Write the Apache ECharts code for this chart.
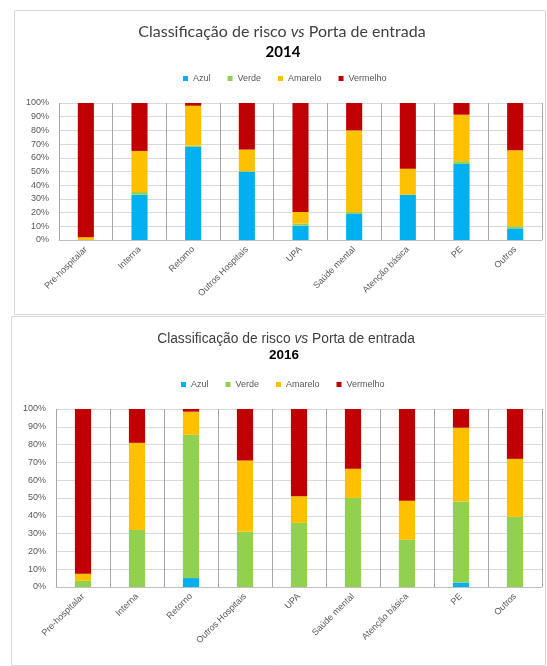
<!DOCTYPE html>
<html>
<head>
<meta charset="utf-8">
<script src="https://cdn.jsdelivr.net/npm/echarts@6/dist/echarts.min.js"></script>
<style>
html,body{margin:0;padding:0;background:#fff;}
#c{width:547px;height:666px;}
</style>
</head>
<body>
<div id="c"></div>
<script>
var categories = ['Pre-hospitalar','Interna','Retorno','Outros Hospitais','UPA','Saúde mental','Atenção básica','PE','Outros'];
var seriesNames = ['Azul','Verde','Amarelo','Vermelho'];
var colors = ['#00B0F0','#92D050','#FFC000','#C00000'];
var yTicks = [0,10,20,30,40,50,60,70,80,90,100];

var azul2014     = [0, 33, 68, 50, 10.5, 19, 33, 55.5, 8.5];
var verde2014    = [0, 2, 1, 0, 1.5, 1.5, 0, 2, 1.5];
var amarelo2014  = [2, 30, 29, 16, 8.5, 59.5, 19, 34, 55.5];
var vermelho2014 = [98, 35, 2, 34, 79.5, 20, 48, 8.5, 34.5];

var azul2016     = [0, 0, 5, 0, 0, 0, 0, 2.5, 0];
var verde2016    = [3.5, 32, 80.5, 31, 36, 50, 26.5, 45.5, 39.5];
var amarelo2016  = [4, 49, 13, 40, 15, 16.5, 22, 41.5, 32.5];
var vermelho2016 = [92.5, 19, 1.5, 29, 49, 33.5, 51.5, 10.5, 28];

var data2014 = [azul2014, verde2014, amarelo2014, vermelho2014];
var data2016 = [azul2016, verde2016, amarelo2016, vermelho2016];

var chart = echarts.init(document.getElementById('c'), null, {renderer:'canvas'});

function xAxisCfg(gi){
  return {
    type:'category', gridIndex:gi, data:categories,
    axisLine:{show:true, lineStyle:{color:'#BFBFBF'}},
    axisTick:{show:false},
    splitLine:{show:true, lineStyle:{color:'#A6A6A6', width:1}},
    axisLabel:{interval:0, rotate:45, fontSize:9, color:'#595959', margin:8, fontFamily:'Liberation Sans'}
  };
}
function yAxisCfg(gi){
  return {
    type:'value', gridIndex:gi, min:yTicks[0], max:yTicks[yTicks.length-1], interval:10,
    axisLine:{show:false}, axisTick:{show:false},
    splitLine:{show:true, lineStyle:{color:'#D9D9D9'}},
    axisLabel:{formatter:'{value}%', fontSize:9, color:'#595959', margin:10, fontFamily:'Liberation Sans'}
  };
}

var series = [];
seriesNames.forEach(function(n,i){
  series.push({name:n, type:'bar', stack:'s2014', xAxisIndex:0, yAxisIndex:0, barWidth:'30%',
    data:data2014[i], itemStyle:{color:colors[i]}});
});
seriesNames.forEach(function(n,i){
  series.push({name:n, type:'bar', stack:'s2016', xAxisIndex:1, yAxisIndex:1, barWidth:'30%',
    data:data2016[i], itemStyle:{color:colors[i]}});
});

var legendBase = {
  data:seriesNames, icon:'rect', itemWidth:5, itemHeight:5, itemGap:17, padding:0,
  textStyle:{fontSize:9, color:'#595959', fontFamily:'Liberation Sans'}, selectedMode:false
};

var option = {
  animation:false,
  backgroundColor:'#fff',
  color:colors,
  graphic:[
    {type:'rect', shape:{x:14.5, y:10.5, width:531, height:304}, style:{fill:'none', stroke:'#D9D9D9', lineWidth:1}, z:-1},
    {type:'rect', shape:{x:11.5, y:316.5, width:534, height:349}, style:{fill:'none', stroke:'#D9D9D9', lineWidth:1}, z:-1}
  ],
  title:[
    {text:'{a|Classificação de risco }{i|vs}{a| Porta de entrada}', left:282, top:23.5, textAlign:'center', padding:0,
      textStyle:{fontWeight:'normal', rich:{a:{fontSize:16, fontWeight:'normal', color:'#404040', fontFamily:'Lato'}, i:{fontSize:16, fontWeight:'normal', color:'#404040', fontStyle:'italic', fontFamily:'Lato'}}}},
    {text:'2014', left:283, top:45, textAlign:'center', padding:0,
      textStyle:{fontSize:15, fontWeight:'bold', color:'#000', fontFamily:'Lato'}},
    {text:'{a|Classificação de risco }{i|vs}{a| Porta de entrada}', left:286, top:332, textAlign:'center', padding:0,
      textStyle:{fontWeight:'normal', rich:{a:{fontSize:13.8, fontWeight:'normal', color:'#404040', fontFamily:'Liberation Sans'}, i:{fontSize:13.8, fontWeight:'normal', color:'#404040', fontStyle:'italic', fontFamily:'Liberation Sans'}}}},
    {text:'2016', left:284, top:348.5, textAlign:'center', padding:0,
      textStyle:{fontSize:13.5, fontWeight:'bold', color:'#000', fontFamily:'Liberation Sans'}}
  ],
  legend:[
    Object.assign({}, legendBase, {left:183, top:74}),
    Object.assign({}, legendBase, {left:181, top:380})
  ],
  grid:[
    {left:59, top:103, width:483, height:137, containLabel:false},
    {left:56, top:409, width:486, height:178, containLabel:false}
  ],
  xAxis:[xAxisCfg(0), xAxisCfg(1)],
  yAxis:[yAxisCfg(0), yAxisCfg(1)],
  series:series
};
chart.setOption(option);
</script>
</body>
</html>
